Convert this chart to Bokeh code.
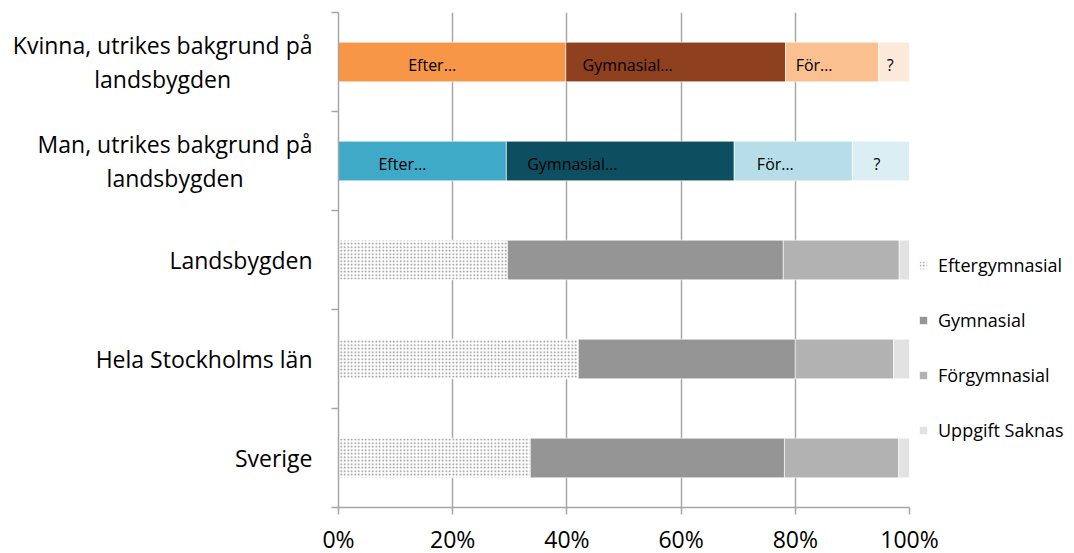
from bokeh.plotting import figure
from bokeh.layouts import row
from bokeh.models import (FixedTicker, NumeralTickFormatter, Range1d, Legend, LegendItem, Label)
from bokeh.core.properties import value
from bokeh.embed import file_html
from bokeh.resources import INLINE

# ---------------- data ----------------
categories = ["Kvinna, utrikes bakgrund på\nlandsbygden",
              "Man, utrikes bakgrund på\nlandsbygden",
              "Landsbygden",
              "Hela Stockholms län",
              "Sverige"]
series = ["Eftergymnasial", "Gymnasial", "Förgymnasial", "Uppgift Saknas"]
eftergymnasial = [0.398, 0.294, 0.296, 0.420, 0.336]
gymnasial      = [0.385, 0.399, 0.483, 0.380, 0.445]
forgymnasial   = [0.163, 0.207, 0.203, 0.172, 0.200]
saknas         = [0.054, 0.100, 0.018, 0.028, 0.019]
bar_labels = ["Efter…", "Gymnasial…", "För…", "?"]
tick_vals = [0, 0.2, 0.4, 0.6, 0.8, 1.0]

# ---------------- styles ----------------
FONT = "Open Sans"
colors_kvinna = ["#F79646", "#8E401F", "#FAC090", "#FDE9D9"]
colors_man = ["#3FA9C8", "#0D4F60", "#B7DEE8", "#DAEEF3"]
colors_gray = ["white", "#959595", "#B2B2B2", "#E2E2E2"]
label_dx = [-20, -48, -18, -4]
grid_col = "#A6A6A6"
TOP, BOTTOM, FRAME_H = 12, 45, 495
LABEL_W, AXIS_W = 318, 20

n = len(categories)
ypos = [n - 1 - i for i in range(n)]   # first category on top
vals = [eftergymnasial, gymnasial, forgymnasial, saknas]
y_range = Range1d(-0.5, n - 0.5)

# ---------- left panel holding the category labels ----------
lab_fig = figure(frame_width=LABEL_W, frame_height=FRAME_H, output_backend="svg",
                 toolbar_location=None, x_range=Range1d(0, 1), y_range=y_range,
                 x_axis_location=None, y_axis_location=None,
                 min_border_left=0, min_border_right=0, min_border_top=TOP, min_border_bottom=BOTTOM)
lab_fig.outline_line_color = None
lab_fig.grid.visible = False
for i in range(n):
    multi = "\n" in categories[i]
    lab_fig.add_layout(Label(x=1, y=ypos[i], x_offset=-6, text=categories[i],
                             text_font=FONT, text_font_size="23px", text_color="black",
                             text_align="center" if multi else "right", text_baseline="middle",
                             anchor="center_right", text_line_height=1.05))

# ---------- main chart ----------
p = figure(frame_width=571, frame_height=FRAME_H, output_backend="svg", toolbar_location=None,
           x_range=Range1d(0, 1), y_range=y_range,
           min_border_left=AXIS_W, min_border_top=TOP, min_border_bottom=BOTTOM, min_border_right=0)
p.outline_line_color = None
p.background_fill_color = "white"

gray_renderers = []
for i in range(n):
    left = 0.0
    for s in range(4):
        v = vals[s][i]
        if i == 0:
            c = colors_kvinna[s]
        elif i == 1:
            c = colors_man[s]
        else:
            c = colors_gray[s]
        kw = {}
        if i >= 2 and s == 0:
            kw = dict(hatch_pattern="dot", hatch_color="#8A8A8A", hatch_scale=3.5, hatch_weight=2.4)
        r = p.hbar(y=ypos[i], left=left, right=left + v, height=0.40, fill_color=c,
                   line_color="white", line_width=0.6, **kw)
        if i == 2:
            gray_renderers.append(r)
        if i < 2:
            p.text(x=[left + v / 2], y=[ypos[i]], text=[bar_labels[s]],
                   text_align="center", text_baseline="middle", x_offset=label_dx[s], y_offset=3,
                   text_font=value(FONT), text_font_size="16px", text_color="black")
        left += v

# grid
p.xgrid.ticker = FixedTicker(ticks=tick_vals)
p.xgrid.grid_line_color = grid_col
p.xgrid.grid_line_width = 1.5
p.ygrid.grid_line_color = None

# x axis
p.xaxis.ticker = FixedTicker(ticks=tick_vals)
p.xaxis.formatter = NumeralTickFormatter(format="0%")
p.xaxis.axis_line_color = grid_col
p.xaxis.axis_line_width = 1.5
p.xaxis.major_tick_line_color = grid_col
p.xaxis.major_tick_line_width = 1.5
p.xaxis.major_tick_out = 7
p.xaxis.major_tick_in = 0
p.xaxis.minor_tick_line_color = None
p.xaxis.major_label_text_font = FONT
p.xaxis.major_label_text_font_size = "23px"
p.xaxis.major_label_text_color = "black"
p.xaxis.major_label_standoff = 8

# y axis: only ticks at category boundaries
p.yaxis.ticker = FixedTicker(ticks=[], minor_ticks=[k - 0.5 for k in range(n + 1)])
p.yaxis.major_label_standoff = 0
p.yaxis.axis_line_color = grid_col
p.yaxis.axis_line_width = 1.5
p.yaxis.major_tick_line_color = None
p.yaxis.minor_tick_line_color = grid_col
p.yaxis.minor_tick_line_width = 1.5
p.yaxis.minor_tick_out = 7
p.yaxis.minor_tick_in = 0

legend = Legend(items=[LegendItem(label=series[s], renderers=[gray_renderers[s]]) for s in range(4)],
                location=(9, 65), orientation="vertical")
legend.label_text_font = FONT
legend.label_text_font_size = "18px"
legend.label_text_color = "black"
legend.glyph_width = 10
legend.glyph_height = 10
legend.label_height = 22
legend.spacing = 31
legend.padding = 0
legend.margin = 0
legend.label_standoff = 10
legend.border_line_color = None
legend.background_fill_alpha = 0
p.add_layout(legend, "right")

layout = row(lab_fig, p, spacing=0)
open("out.html", "w").write(file_html(layout, INLINE))
